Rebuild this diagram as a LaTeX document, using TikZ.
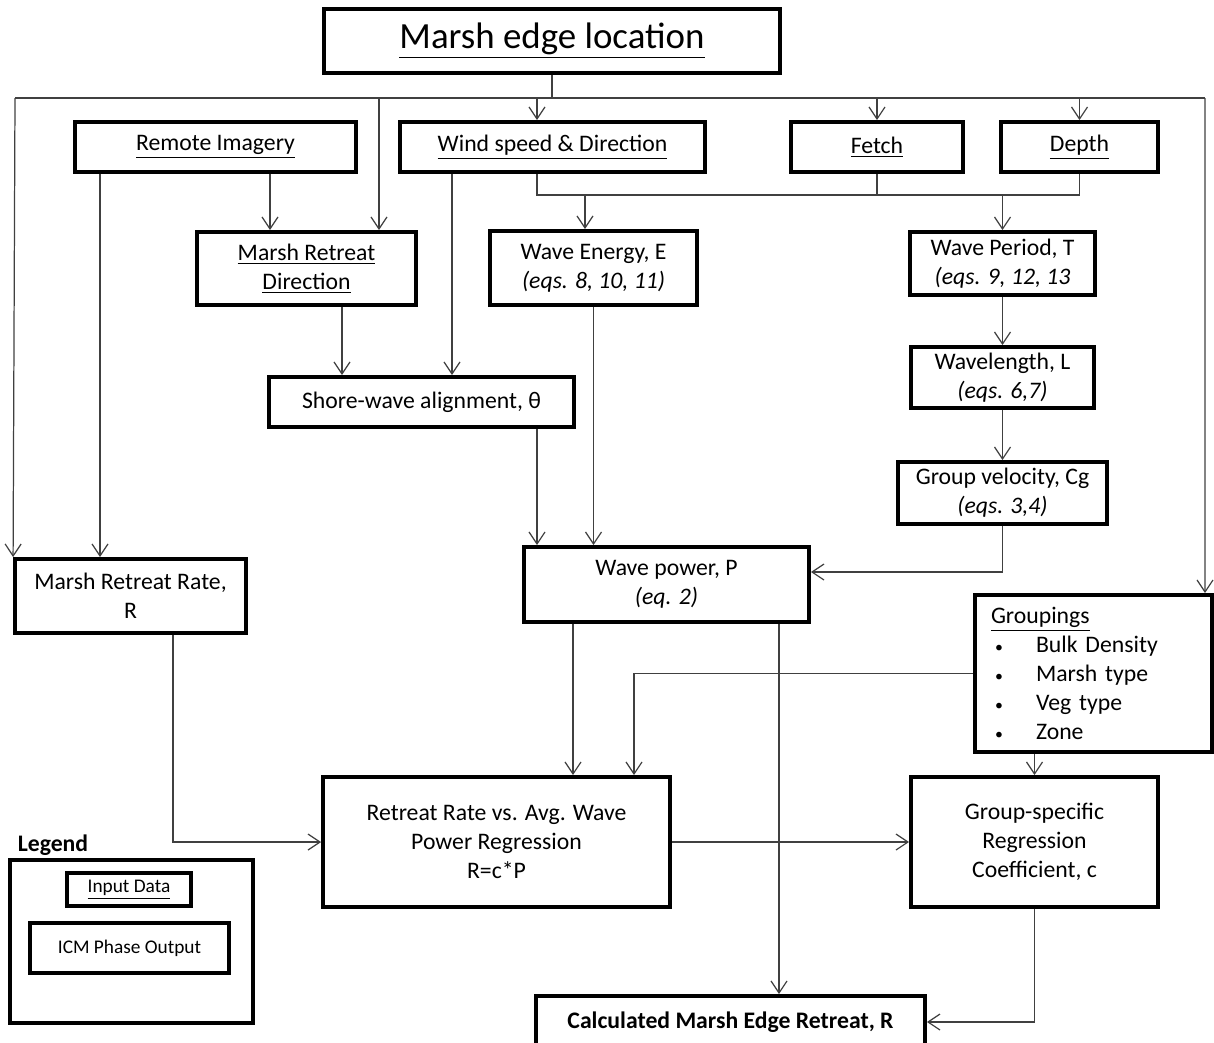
\documentclass[tikz,border=0pt]{standalone}
\usepackage{fontspec}
\setmainfont{Carlito}
\usepackage{tikz}
\usetikzlibrary{arrows.meta,calc}
\tikzstyle{tsText} = [
    text=black,
    font=\fontsize{13.5}{16.5}\selectfont
]
\tikzstyle{tsBox} = [
    rectangle,
    tsText,
    align=center,
    inner sep=0pt,
    draw=black,
    line width=2.2pt]
\tikzstyle{tsSmall} = [
    font=\fontsize{11}{13}\selectfont
]
\tikzstyle{tsLine} = [
    draw=black!75,
    line width=0.7pt]
\tikzstyle{tsArrow} = [
    tsLine,
    -{Straight Barb[length=2.4mm,width=3.2mm]}]

\begin{document}
\begin{tikzpicture}[x=0.02cm, y=-0.02cm]

        \useasboundingbox (0,0) rectangle (1214,1042);

        % boxes
        \node[tsBox, minimum width=9.12cm, minimum height=1.28cm,
              font=\fontsize{21}{25}\selectfont] (edge) at (552,41) {\underline{Marsh edge location}};

        \node[tsBox, minimum width=5.62cm, minimum height=1cm] (remote) at (215.5,147) {\underline{Remote Imagery}};
        \node[tsBox, minimum width=6.1cm,  minimum height=1cm] (wind) at (552.5,147) {\underline{Wind speed \& Direction}};
        \node[tsBox, minimum width=3.44cm, minimum height=1cm] (fetch) at (877,147) {\underline{Fetch}};
        \node[tsBox, minimum width=3.14cm, minimum height=1cm] (depth) at (1079.5,147) {\underline{Depth}};

        \node[tsBox, minimum width=4.38cm, minimum height=1.46cm] (mrd) at (306.5,268.5) {\underline{Marsh Retreat}\\\underline{Direction}};
        \node[tsBox, minimum width=4.14cm, minimum height=1.48cm] (energy) at (593.5,268) {Wave Energy, E\\\textit{(eqs. 8, 10, 11)}};
        \node[tsBox, minimum width=3.7cm,  minimum height=1.26cm] (period) at (1002.5,263.5) {Wave Period, T\\\textit{(eqs. 9, 12, 13}};

        \node[tsBox, minimum width=6.1cm,  minimum height=1cm] (shore) at (421.5,402) {Shore-wave alignment, θ};
        \node[tsBox, minimum width=3.66cm, minimum height=1.22cm] (wavelength) at (1002.5,377.5) {Wavelength, L\\\textit{(eqs. 6,7)}};
        \node[tsBox, minimum width=4.18cm, minimum height=1.24cm] (cg) at (1002.5,493) {Group velocity, Cg\\\textit{(eqs. 3,4)}};

        \node[tsBox, minimum width=4.62cm, minimum height=1.48cm] (rate) at (130.5,596) {Marsh Retreat Rate,\\R};
        \node[tsBox, minimum width=5.7cm,  minimum height=1.5cm] (power) at (666.5,584.5) {Wave power, P\\\textit{(eq. 2)}};

        \node[tsBox, minimum width=4.74cm, minimum height=3.14cm, align=left,
              text width=4.1cm, inner xsep=0.32cm] (groups) at (1093.5,673.5) {%
              \underline{Groupings}\\
              \makebox[0.9cm][l]{\hspace{0.08cm}\fontsize{9}{9}\selectfont\textbullet}Bulk Density\\
              \makebox[0.9cm][l]{\hspace{0.08cm}\fontsize{9}{9}\selectfont\textbullet}Marsh type\\
              \makebox[0.9cm][l]{\hspace{0.08cm}\fontsize{9}{9}\selectfont\textbullet}Veg type\\
              \makebox[0.9cm][l]{\hspace{0.08cm}\fontsize{9}{9}\selectfont\textbullet}Zone};

        \node[tsBox, minimum width=6.94cm, minimum height=2.6cm] (regr) at (496.5,842) {Retreat Rate vs. Avg. Wave\\Power Regression\\R=c*P};
        \node[tsBox, minimum width=4.94cm, minimum height=2.6cm] (coef) at (1034.5,842) {Group-specific\\Regression\\Coefficient, c};

        \node[tsBox, minimum width=7.78cm, minimum height=1.04cm] (calc) at (730.5,1022) {\textbf{Calculated Marsh Edge Retreat, R}};

        % legend
        \node[tsText] (legendlabel) at (53,845) {\textbf{Legend}};
        \node[tsBox, minimum width=4.86cm, minimum height=3.26cm] (legend) at (131.5,941.5) {};
        \node[tsBox, tsSmall, minimum width=2.48cm, minimum height=0.66cm] (input) at (129,889.5) {\underline{Input Data}};
        \node[tsBox, tsSmall, minimum width=3.98cm, minimum height=1cm] (icm) at (129.5,948) {ICM Phase Output};

        % top distribution line
        \coordinate (busL) at (15,98);
        \coordinate (busR) at (1205,98);
        \draw[tsLine] (edge.south) -- (edge.south |- busL);
        \draw[tsLine] (busL) -- (busR);
        \draw[tsArrow] (busL) -- (rate.north west);
        \coordinate (mrdIn) at ($(mrd.north)+(72.5,0)$);
        \draw[tsArrow] (mrdIn |- busL) -- (mrdIn);
        \coordinate (windIn) at ($(wind.north)+(-15.5,0)$);
        \draw[tsArrow] (windIn |- busL) -- (windIn);
        \draw[tsArrow] (fetch.north |- busL) -- (fetch.north);
        \draw[tsArrow] (depth.north |- busL) -- (depth.north);
        \coordinate (groupsIn) at ($(groups.north)+(111.5,0)$);
        \draw[tsArrow] (busR) -- (groupsIn);

        % remote imagery
        \coordinate (remOutA) at ($(remote.south)+(-115.5,0)$);
        \draw[tsArrow] (remOutA) -- (remOutA |- rate.north);
        \coordinate (remOutB) at ($(remote.south)+(54.5,0)$);
        \draw[tsArrow] (remOutB) -- (remOutB |- mrd.north);

        % wind, fetch, depth
        \coordinate (busW) at (537,195);
        \coordinate (windOutA) at ($(wind.south)+(-100.5,0)$);
        \draw[tsArrow] (windOutA) -- (windOutA |- shore.north);
        \coordinate (windOutB) at ($(wind.south)+(-15.5,0)$);
        \draw[tsLine] (windOutB) -- (windOutB |- busW) -| (depth.south);
        \draw[tsLine] (fetch.south) -- (fetch.south |- busW);
        \coordinate (energyIn) at ($(energy.north)+(-8.5,0)$);
        \draw[tsArrow] (energyIn |- busW) -- (energyIn);
        \draw[tsArrow] (period.north |- busW) -- (period.north);

        % middle
        \coordinate (mrdOut) at ($(mrd.south)+(35.5,0)$);
        \draw[tsArrow] (mrdOut) -- (mrdOut |- shore.north);
        \draw[tsArrow] (energy.south) -- (energy.south |- power.north);
        \coordinate (shoreOut) at ($(shore.south)+(115.5,0)$);
        \draw[tsArrow] (shoreOut) -- (shoreOut |- power.north);
        \draw[tsArrow] (period) -- (wavelength);
        \draw[tsArrow] (wavelength) -- (cg);
        \coordinate (powerIn) at ($(power.east)+(0,-12.5)$);
        \draw[tsArrow] (cg.south) |- (powerIn);

        % bottom
        \coordinate (rateOut) at ($(rate.south)+(42.5,0)$);
        \draw[tsArrow] (rateOut) |- (regr.west);
        \coordinate (powerOutA) at ($(power.south)+(-93.5,0)$);
        \draw[tsArrow] (powerOutA) -- (powerOutA |- regr.north);
        \coordinate (powerOutB) at ($(power.south)+(112.5,0)$);
        \draw[tsArrow] (powerOutB) -- (powerOutB |- calc.north);
        \coordinate (regrIn) at ($(regr.north)+(137.5,0)$);
        \draw[tsArrow] (groups.west) -| (regrIn);
        \draw[tsArrow] (coef.north |- groups.south) -- (coef.north);
        \draw[tsArrow] (regr) -- (coef);
        \draw[tsArrow] (coef.south) |- (calc.east);

\end{tikzpicture}
\end{document}
